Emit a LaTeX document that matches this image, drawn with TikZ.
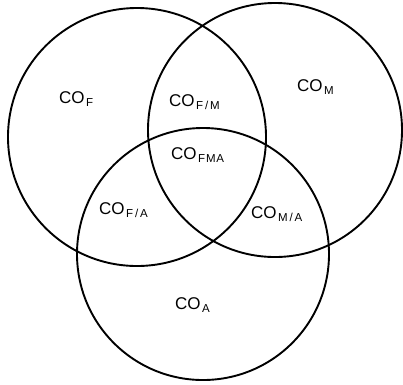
\documentclass[tikz,border=0pt]{standalone}
\usepackage{fontspec}
\setmainfont{Liberation Sans}
\newcommand{\co}[1]{CO\kern1.5pt\raisebox{-3pt}{\fontsize{11.5}{11.5}\selectfont #1}}
\newcommand{\vslash}{\kern1.8pt/\kern1.8pt}
\begin{document}
\begin{tikzpicture}[x=1pt,y=-1pt,
  venn/.style={draw=black,line width=1.9pt,circle,inner sep=0pt},
  lbl/.style={font=\fontsize{17}{17}\selectfont,inner sep=0pt,anchor=base west}]
\useasboundingbox (0,0) rectangle (403,384);
\node[venn,minimum size=258pt] (F) at (137,137) {};
\node[venn,minimum size=254pt] (M) at (275,130) {};
\node[venn,minimum size=252pt] (A) at (203,254) {};
\node[lbl] (lF) at (59,103) {\co{F}};
\node[lbl] (lM) at (297,91) {\co{M}};
\node[lbl] (lFM) at (169,106.5) {\co{F\vslash M}};
\node[lbl] (lFMA) at (171,159.5) {\co{F\kern.8pt M\kern.8pt A}};
\node[lbl] (lFA) at (99,214.5) {\co{F\vslash A}};
\node[lbl] (lMA) at (251,218) {\co{M\vslash A}};
\node[lbl] (lA) at (175,309) {\co{A}};
\end{tikzpicture}
\end{document}
